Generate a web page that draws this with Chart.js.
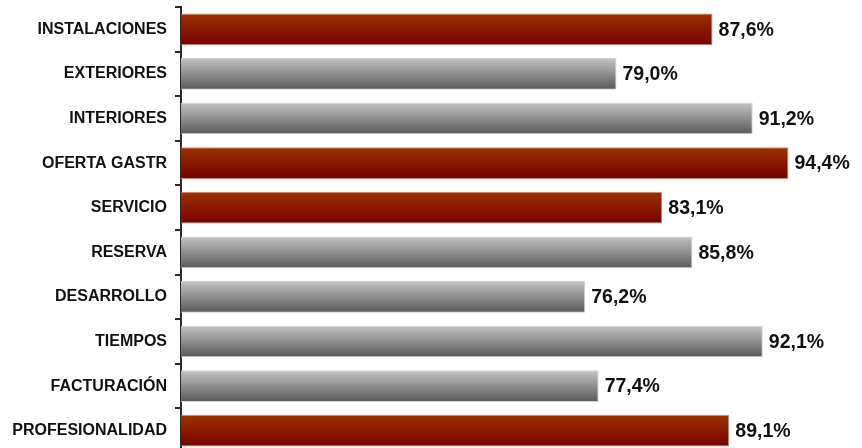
<!DOCTYPE html>
<html>
<head>
<meta charset="utf-8">
<script src="https://cdn.jsdelivr.net/npm/chart.js@4"></script>
<style>
html,body{margin:0;padding:0;background:#fff;overflow:hidden;}
#wrap{position:relative;width:862px;height:460px;}
</style>
</head>
<body>
<div id="wrap"><canvas id="c"></canvas></div>
<script>
const categories = ["INSTALACIONES","EXTERIORES","INTERIORES","OFERTA GASTR","SERVICIO","RESERVA","DESARROLLO","TIEMPOS","FACTURACIÓN","PROFESIONALIDAD"];
const values = [87.6, 79.0, 91.2, 94.4, 83.1, 85.8, 76.2, 92.1, 77.4, 89.1];
const highlighted = [true, false, false, true, true, false, false, false, false, true];
const valueLabels = ["87,6%","79,0%","91,2%","94,4%","83,1%","85,8%","76,2%","92,1%","77,4%","89,1%"];

const BAR_HALF = 16;
function barFill(ctx){
  const chart = ctx.chart;
  const red = highlighted[ctx.dataIndex];
  const y = chart.scales && chart.scales.y;
  if(!y || !chart.chartArea) return red ? '#8a1800' : '#999';
  const yc = y.getPixelForValue(ctx.dataIndex);
  const g = chart.ctx.createLinearGradient(0, yc - BAR_HALF, 0, yc + BAR_HALF);
  if(red){
    g.addColorStop(0, '#9c3300');
    g.addColorStop(1, '#760000');
  } else {
    g.addColorStop(0, '#c4c4c4');
    g.addColorStop(1, '#585858');
  }
  return g;
}
function barBorder(ctx){
  return highlighted[ctx.dataIndex] ? '#c98a7a' : '#d0d0d0';
}

const valueLabelPlugin = {
  id: 'valueLabels',
  afterDatasetsDraw(chart){
    const ctx = chart.ctx;
    const meta = chart.getDatasetMeta(0);
    ctx.save();
    ctx.font = 'bold 19.5px "Liberation Sans", Arial, sans-serif';
    ctx.fillStyle = '#111';
    ctx.textAlign = 'left';
    ctx.textBaseline = 'middle';
    meta.data.forEach((bar, i) => {
      ctx.fillText(valueLabels[i], bar.x + 6, bar.y + 1);
    });
    ctx.restore();
  }
};

new Chart(document.getElementById('c'), {
  type: 'bar',
  data: {
    labels: categories,
    datasets: [{
      data: values,
      backgroundColor: barFill,
      borderColor: barBorder,
      borderWidth: 1,
      borderSkipped: false,
      barPercentage: 0.71,
      categoryPercentage: 1.0
    }]
  },
  options: {
    indexAxis: 'y',
    responsive: true,
    maintainAspectRatio: false,
    animation: false,
    layout: { padding: { top: 7, bottom: 7, right: 11, left: 0 } },
    plugins: { legend: { display: false }, tooltip: { enabled: false } },
    scales: {
      x: {
        display: false,
        min: 40,
        max: 100
      },
      y: {
        afterFit(scale){ scale.width = 181; scale.paddingTop = 0; scale.paddingBottom = 0; },
        border: { display: true, color: '#2a2a2a', width: 2 },
        grid: { display: true, drawOnChartArea: false, offset: true, tickLength: 6, color: '#2a2a2a', lineWidth: 2 },
        ticks: {
          padding: 8,
          color: '#111',
          font: { family: '"Liberation Sans", Arial, sans-serif', size: 16, weight: 'bold' }
        }
      }
    }
  },
  plugins: [valueLabelPlugin]
});
</script>
</body>
</html>
